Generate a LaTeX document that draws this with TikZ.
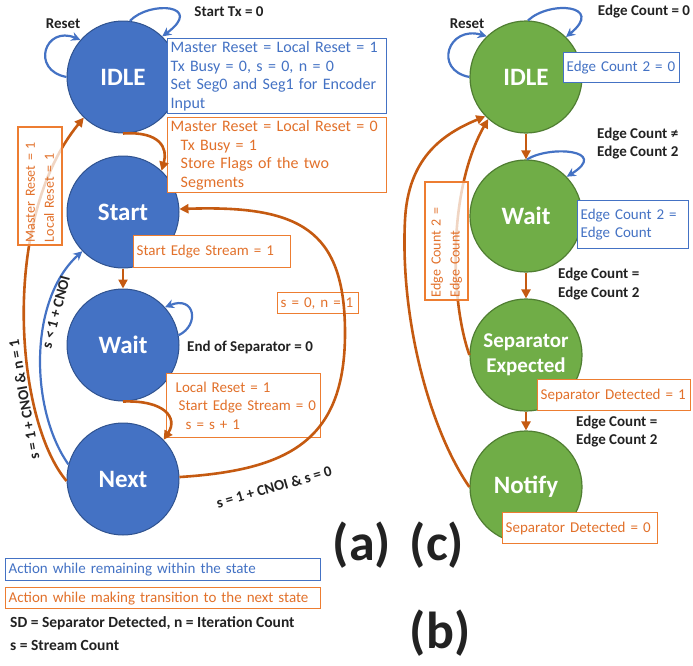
\documentclass[tikz,border=0pt]{standalone}
\usepackage{fontspec}
\setmainfont{Carlito}
\usetikzlibrary{arrows.meta}
\definecolor{bfill}{HTML}{4472C4}
\definecolor{bdraw}{HTML}{2F528F}
\definecolor{gfill}{HTML}{70AD47}
\definecolor{gdraw}{HTML}{507E32}
\definecolor{oline}{HTML}{C55A11}
\definecolor{obox}{HTML}{ED7D31}
\definecolor{otext}{HTML}{E2712B}
\definecolor{bline}{HTML}{4472C4}
\definecolor{lbl}{HTML}{222222}
\begin{document}
\begin{tikzpicture}[x=1pt,y=-1pt,
  bstate/.style={circle,fill=bfill,draw=bdraw,line width=1pt,minimum size=112pt,inner sep=0pt,text=white,font=\fontsize{25}{28}\selectfont\bfseries},
  gstate/.style={circle,fill=gfill,draw=gdraw,line width=1.2pt,minimum size=112pt,inner sep=0pt,text=white,align=center,font=\fontsize{25}{28}\selectfont\bfseries},
  oarr/.style={draw=oline,line width=2.6pt,-{Triangle[length=9pt,width=9pt]}},
  barr/.style={draw=bline,line width=2.2pt,-{Stealth[length=9pt,width=9pt]}},
  box/.style={rectangle,fill=white,line width=1.4pt,anchor=north west,align=left,inner xsep=3pt,inner ysep=0pt,font=\fontsize{15}{18.7}\selectfont},
  bigbox/.style={font=\fontsize{16}{18.7}\selectfont},
  bbox/.style={box,draw=bline,text=bline},
  obx/.style={box,draw=obox,text=otext},
  vbox/.style={obx,anchor=center,rotate=90,fill opacity=0.75,text opacity=1,text width=112pt,font=\fontsize{14}{19}\selectfont},
  lab/.style={font=\fontsize{15}{18}\selectfont\bfseries,text=lbl,align=left,inner sep=0pt},
  big/.style={font=\fontsize{52}{56}\selectfont\bfseries,text=lbl,inner sep=0pt}
]
\useasboundingbox (0,0) rectangle (693,665);

% ---------- states (a)
\node[bstate] (lidle)  at (123,77)  {IDLE};
\node[bstate] (lstart) at (123,212) {Start};
\node[bstate] (lwait)  at (123,345) {Wait};
\node[bstate] (lnext)  at (123,479) {Next};

% ---------- states (c)
\node[gstate] (gidle) at (526,77)  {IDLE};
\node[gstate] (gwait) at (526,216) {Wait};
\node[gstate,font=\fontsize{21}{25}\selectfont\bfseries] (gsep) at (526,355) {Separator\\Expected};
\node[gstate] (gnot)  at (526,487) {Notify};

% ---------- boxes (a)
\node[bbox,bigbox,text width=213pt,minimum height=75pt] (b1) at (167,38)
  {Master Reset = Local Reset = 1\\Tx Busy = 0, s = 0, n = 0\\Set Seg0 and Seg1 for Encoder\\Input};
\node[obx,bigbox,text width=213pt,minimum height=75pt] (o1) at (167,117)
  {Master Reset = Local Reset = 0\\\hspace*{10pt}Tx Busy = 1\\\hspace*{10pt}Store Flags of the two\\\hspace*{10pt}Segments};
\node[obx,text width=151pt,minimum height=32pt] (o2) at (133,235) {Start Edge Stream = 1};
\node[obx,text width=148pt,minimum height=64pt] (o3) at (166,373)
  {\hspace*{6pt}Local Reset = 1\\\hspace*{9pt}Start Edge Stream = 0\\\hspace*{16pt}s = s + 1};
\node[obx,fill=none,text width=75pt,minimum height=21pt] (o4) at (277,292) {s = 0, n = 1};

% ---------- boxes (c)
\node[bbox,text width=110pt,minimum height=30pt] (b2) at (563,52) {Edge Count 2 = 0};
\node[bbox,text width=105pt,minimum height=48pt] (b3) at (577,200) {Edge Count 2 =\\Edge Count};
\node[obx,text width=147pt,minimum height=31pt] (o5) at (537,379) {Separator Detected = 1};
\node[obx,text width=149pt,minimum height=31pt] (o6) at (502,512) {Separator Detected = 0};

% ---------- connectors (a)
\draw[barr] (lidle.180) .. controls (30,70) and (45,25) .. (lidle.139);
\draw[barr] (lidle.83) .. controls (150,0) and (205,5) .. (lidle.46);
\draw[oarr] (lidle.270) .. controls (160,131) and (168,148) .. (lstart.47);
\draw[oarr] (lstart.south) -- (lwait.north);
\draw[barr] (lwait.10) .. controls (200,325) and (195,295) .. (lwait.42);
\draw[oarr] (lwait.270) .. controls (165,400) and (178,418) .. (lnext.44);
\draw[oarr] (lnext.2) .. controls (290,470) and (346,440) .. (345,330)
  .. controls (344,230) and (300,205) .. (lstart.3);
\draw[barr] (lnext.165) .. controls (30,410) and (28,300) .. (lstart.224);
\draw[oarr] (lnext.182) .. controls (15,420) and (0,220) .. (lidle.226);

% ---------- connectors (c)
\draw[barr] (gidle.180) .. controls (433,70) and (448,25) .. (gidle.134);
\draw[barr] (gidle.88) .. controls (550,0) and (605,5) .. (gidle.45);
\draw[oarr] (gidle.south) -- (gwait.north);
\draw[barr] (gwait.89) .. controls (550,145) and (610,150) .. (gwait.44);
\draw[oarr] (gwait.south) -- (gsep.north);
\draw[oarr] (gsep.south) -- (gnot.north);
\draw[oarr] (gsep.180) .. controls (450,300) and (448,190) .. (gidle.228);
\draw[oarr] (gnot.180) .. controls (430,430) and (400,320) .. (405,220)
  .. controls (408,160) and (440,135) .. (gidle.224);

% ---------- vertical boxes
\node[vbox,minimum height=44pt] (o7) at (40,186) {Master Reset = 1\\Local Reset = 1};
\node[vbox,minimum height=43pt] (o8) at (446.5,241) {Edge Count 2 =\\Edge Count};

% ---------- labels (a)
\node[lab] (l1) at (63,24) {Reset};
\node[lab] (l2) at (229,12) {Start Tx = 0};
\node[lab,anchor=west] (l3) at (187,347) {End of Separator = 0};
\node[lab,rotate=75] (l4) at (56,312) {s < 1 + CNOI};
\node[lab,rotate=100] (l5) at (24,400) {s = 1 + CNOI \& n = 1};
\node[lab,rotate=16] (l6) at (274,487) {s = 1 + CNOI \& s = 0};

% ---------- labels (c)
\node[lab] (l7) at (467,24) {Reset};
\node[lab] (l8) at (644,12) {Edge Count = 0};
\node[lab,anchor=west] (l9) at (597,144) {Edge Count ≠\\Edge Count 2};
\node[lab,anchor=west] (l10) at (558,284) {Edge Count =\\Edge Count 2};
\node[lab,anchor=west] (l11) at (576,431) {Edge Count =\\Edge Count 2};

% ---------- legend
\node[bbox,text width=309pt,minimum height=22pt] (lg1) at (5,558) {Action while remaining within the state};
\node[obx,text width=309pt,minimum height=21pt] (lg2) at (5,587) {Action while making transition to the next state};
\node[lab,anchor=west,font=\fontsize{15.5}{18}\selectfont\bfseries] (lg3) at (10,623) {SD = Separator Detected, n = Iteration Count};
\node[lab,anchor=west,font=\fontsize{15.5}{18}\selectfont\bfseries] (lg4) at (10,645) {s = Stream Count};

\node[big] (pa) at (362,545) {(a)};
\node[big] (pc) at (437,545) {(c)};
\node[big] (pb) at (440,633) {(b)};
\end{tikzpicture}
\end{document}
